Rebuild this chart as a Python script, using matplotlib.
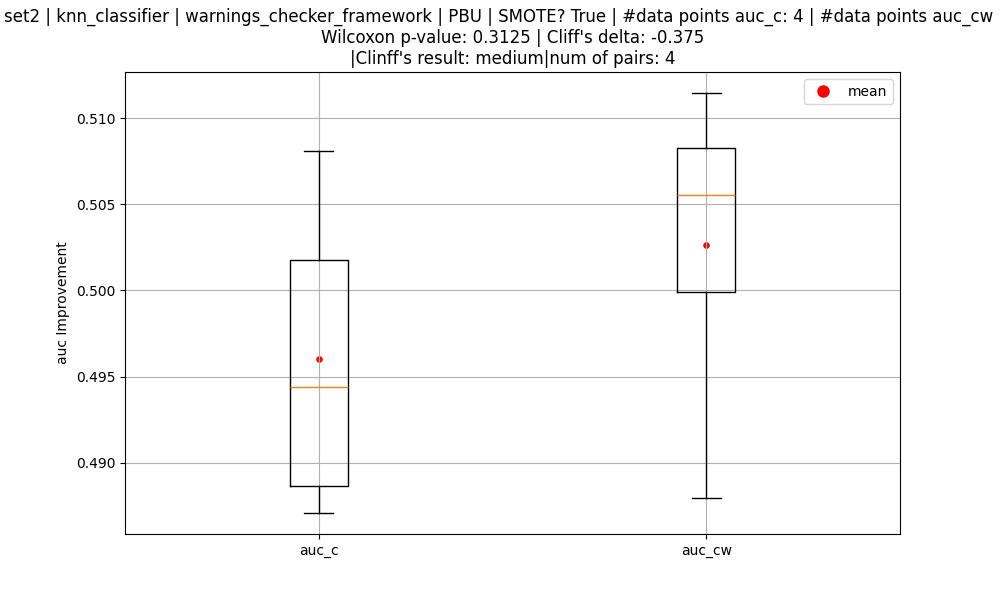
import matplotlib
matplotlib.use("Agg")
import matplotlib.pyplot as plt
from matplotlib.lines import Line2D
import numpy as np

categories = ["auc_c", "auc_cw"]
auc_c = [0.48710, 0.48919, 0.49966, 0.50810]
auc_cw = [0.48797, 0.50389, 0.50720, 0.51145]
title = ("set2 | knn_classifier | warnings_checker_framework | PBU | SMOTE? True | #data points auc_c: 4 | #data points auc_cw : 4\n"
         "Wilcoxon p-value: 0.3125 | Cliff's delta: -0.375\n"
         "|Clinff's result: medium|num of pairs: 4")

data = [auc_c, auc_cw]
fig, ax = plt.subplots(figsize=(10, 6), dpi=100)
ax.boxplot(data, tick_labels=categories)
means = [np.mean(d) for d in data]
ax.scatter([1, 2], means, color='red', s=14, zorder=1)
handle = Line2D([], [], color='red', marker='o', linestyle='None', markersize=8, label='mean')
ax.legend(handles=[handle], loc='upper right')
ax.set_ylabel("auc Improvement")
ax.set_title(title)
ax.grid(True)
fig.savefig("out.png")
